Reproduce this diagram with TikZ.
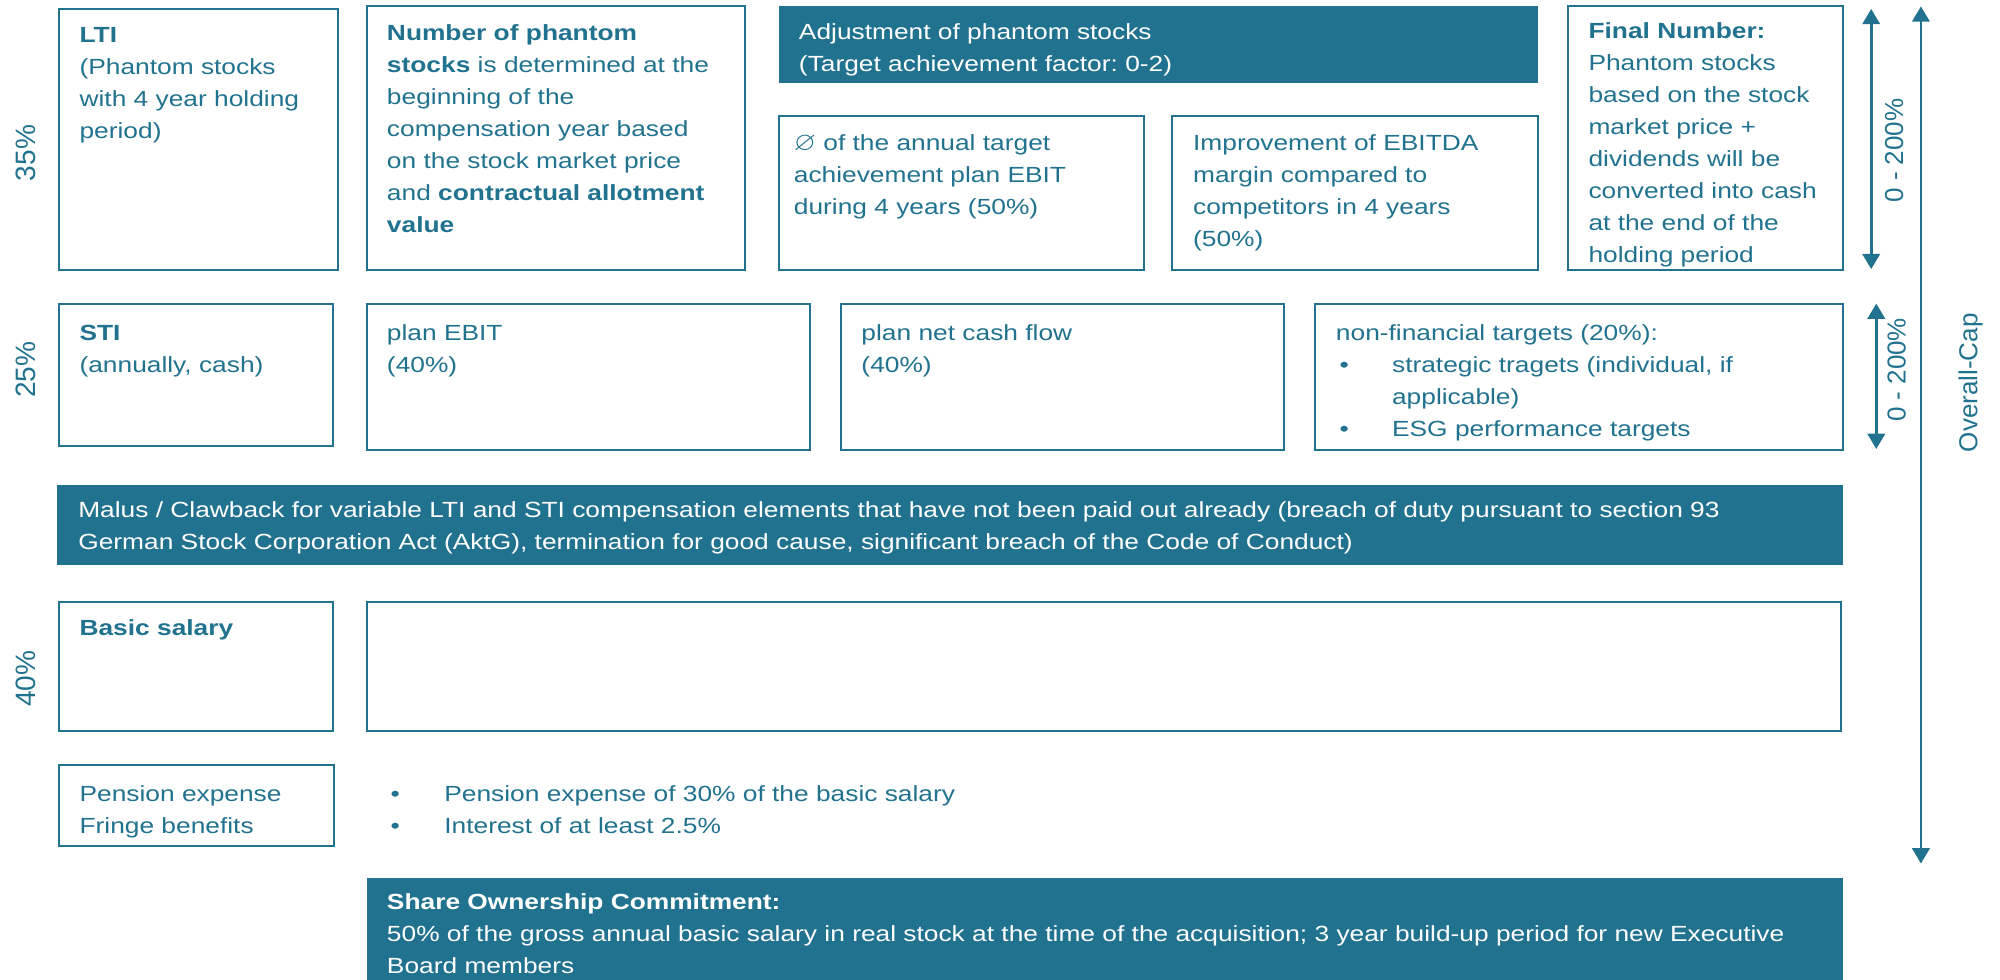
\documentclass[tikz,border=0pt]{standalone}
\usepackage{fontspec}
\setmainfont{Liberation Sans}[FakeStretch=1.2]
\newfontfamily\rotfont{Liberation Sans}
\usepackage{graphicx}
\usepackage{amssymb}
\usetikzlibrary{fit,arrows.meta}
\definecolor{teal1}{RGB}{33,114,143}
\frenchspacing
\begin{document}
\begin{tikzpicture}[x=0.5pt,y=-0.5pt,
  box/.style={draw=teal1, line width=0.8pt, inner sep=0pt},
  fbox/.style={fill=teal1, draw=none, inner sep=0pt},
  txt/.style={anchor=base west, inner sep=0pt, align=left, text width=#1, text=teal1, font=\fontsize{8.6pt}{12.55pt}\selectfont\frenchspacing},
  txt/.default=300pt,
  wtxt/.style={txt=#1, text=white},
  wtxt/.default=700pt,
  pct/.style={rotate=90, text=teal1, font=\rotfont\fontsize{11pt}{13pt}\selectfont, inner sep=0pt},
  rng/.style={rotate=90, text=teal1, font=\rotfont\fontsize{10.2pt}{12pt}\selectfont, inner sep=0pt},
  arr/.style={draw=teal1, line width=1.1pt, {Triangle[width=6.8pt,length=6pt]}-{Triangle[width=6.8pt,length=6pt]}},
]
\useasboundingbox (0,0) rectangle (1568,768);

% ---- row percentages
\node[pct] (p35) at (20,120) {35\%};
\node[pct] (p25) at (20,290) {25\%};
\node[pct] (p40) at (20,532) {40\%};

% ---- LTI row
\node[box, fit={(46,7) (265,212)}] (lti) {};
\node[txt] (ltiT) at (62,33) {\textbf{LTI}\\(Phantom stocks\\with 4 year holding\\period)};

\node[box, fit={(288,5) (584,212)}] (num) {};
\node[txt] (numT) at (303,32) {\textbf{Number of phantom}\\\textbf{stocks} is determined at the\\beginning of the\\compensation year based\\on the stock market price\\and \textbf{contractual allotment}\\\textbf{value}};

\node[fbox, fit={(611,5) (1206,65)}] (adj) {};
\node[wtxt] (adjT) at (626,31) {Adjustment of phantom stocks\\(Target achievement factor: 0-2)};

\node[box, fit={(611,91) (897,212)}] (avg) {};
\node[txt] (avgT) at (622,118) {\scalebox{1.3}[1.2]{$\varnothing$} of the annual target\\achievement plan EBIT\\during 4 years (50\%)};

\node[box, fit={(919,91) (1206,212)}] (imp) {};
\node[txt] (impT) at (935,118) {Improvement of EBITDA\\margin compared to\\competitors in 4 years\\(50\%)};

\node[box, fit={(1229,5) (1445,212)}] (fin) {};
\node[txt] (finT) at (1245,30) {\textbf{Final Number:}\\Phantom stocks\\based on the stock\\market price +\\dividends will be\\converted into cash\\at the end of the\\holding period};

% ---- STI row
\node[box, fit={(46,238) (261,350)}] (sti) {};
\node[txt] (stiT) at (62,267) {\textbf{STI}\\(annually, cash)};

\node[box, fit={(288,238) (635,353)}] (ebit) {};
\node[txt] (ebitT) at (303,267) {plan EBIT\\(40\%)};

\node[box, fit={(659,238) (1007,353)}] (ncf) {};
\node[txt] (ncfT) at (675,267) {plan net cash flow\\(40\%)};

\node[box, fit={(1031,238) (1445,353)}] (nft) {};
\node[txt] (nftT) at (1047,267) {non-financial targets (20\%):\\\makebox[22pt][l]{\,•}strategic tragets (individual, if\\\hspace*{22pt}applicable)\\\makebox[22pt][l]{\,•}ESG performance targets};

% ---- Malus
\node[fbox, fit={(45,380) (1445,443)}] (mal) {};
\node[wtxt] (malT) at (61,406) {Malus / Clawback for variable LTI and STI compensation elements that have not been paid out already (breach of duty pursuant to section 93\\German Stock Corporation Act (AktG), termination for good cause, significant breach of the Code of Conduct)};

% ---- Basic salary row
\node[box, fit={(46,472) (261,573)}] (bas) {};
\node[txt] (basT) at (62,498) {\textbf{Basic salary}};
\node[box, fit={(288,472) (1443,573)}] (emp) {};

% ---- Pension
\node[box, fit={(46,600) (262,663)}] (pen) {};
\node[txt] (penT) at (62,628) {Pension expense\\Fringe benefits};
\node[txt] (penB) at (303,628) {\makebox[22.5pt][l]{\,•}Pension expense of 30\% of the basic salary\\\makebox[22.5pt][l]{\,•}Interest of at least 2.5\%};

% ---- Share ownership
\node[fbox, fit={(288,688) (1445,772)}] (sha) {};
\node[wtxt] (shaT) at (303,713) {\textbf{Share Ownership Commitment:}\\50\% of the gross annual basic salary in real stock at the time of the acquisition; 3 year build-up period for new Executive\\Board members};

% ---- arrows
\coordinate (a1t) at (1467,7);
\coordinate (a1b) at (1467,211);
\draw[arr] (a1t) -- (a1b);
\node[rng] (r1) at (1485,118) {0 - 200\%};

\coordinate (a2t) at (1471,238);
\coordinate (a2b) at (1471,352);
\draw[arr] (a2t) -- (a2b);
\node[rng] (r2) at (1487,290) {0 - 200\%};

\coordinate (a3t) at (1506,5);
\coordinate (a3b) at (1506,677);
\draw[arr] (a3t) -- (a3b);
\node[rng] (oc) at (1545,300) {Overall-Cap};
\end{tikzpicture}
\end{document}
